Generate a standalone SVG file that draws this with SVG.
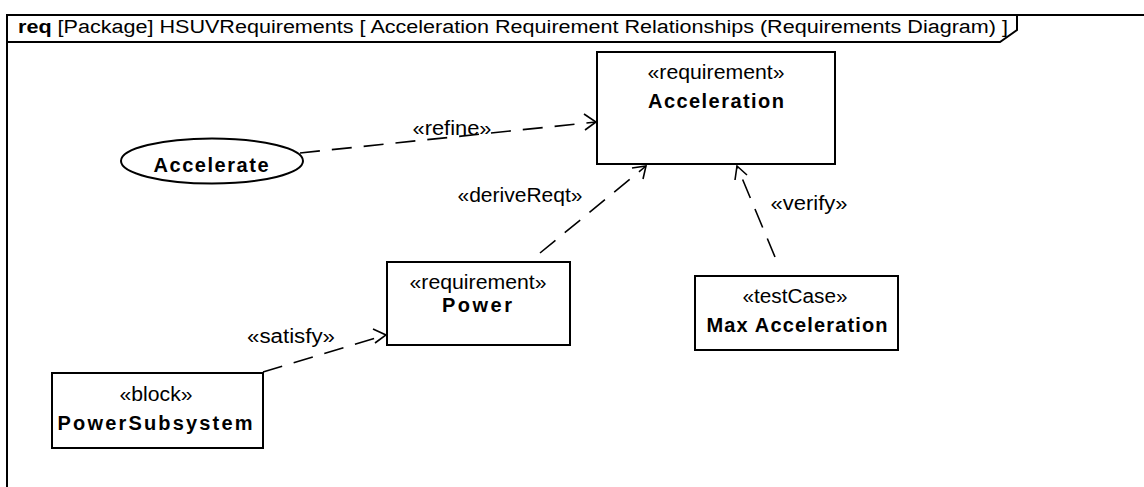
<svg xmlns="http://www.w3.org/2000/svg" width="1144" height="487" viewBox="0 0 1144 487">
<defs>
<style>
.frame{fill:none;stroke:#000;stroke-width:2}
.box{fill:#fff;stroke:#000;stroke-width:2}
.st{font-family:"Liberation Sans",Arial,sans-serif;font-size:20px;fill:#000;text-anchor:middle}
.nm{font-family:"Liberation Sans",Arial,sans-serif;font-size:20px;font-weight:bold;fill:#000;text-anchor:middle}
.lbl{font-family:"Liberation Sans",Arial,sans-serif;font-size:20px;fill:#000;text-anchor:middle}
.dep{fill:none;stroke:#000;stroke-width:1.6;stroke-dasharray:20,12}
.ah{fill:none;stroke:#000;stroke-width:1.6}
</style>
</defs>
<rect width="1144" height="487" fill="#fff"/>
<g id="frame">
<path class="frame" d="M7,487 V15 H1144"/>
<path class="frame" d="M7,42 H1000 L1017,30 V15" stroke-width="1.5"/>
<text x="18" y="33" font-family="Liberation Sans,Arial,sans-serif" font-size="18" textLength="990" lengthAdjust="spacingAndGlyphs"><tspan font-weight="bold">req</tspan> [Package] HSUVRequirements [ Acceleration Requirement Relationships (Requirements Diagram) ]</text>
</g>
<g id="connectors">
<g id="refine">
<line class="dep" x1="300" y1="153" x2="596" y2="122"/>
<path class="ah" d="M584,114 L596,122 L585,130"/>
<text class="lbl" x="452" y="135" textLength="79" lengthAdjust="spacingAndGlyphs">«refine»</text>
</g>
<g id="deriveReqt">
<line class="dep" x1="540" y1="253" x2="646" y2="166"/>
<path class="ah" d="M632,168 L646,166 L643,179"/>
<text class="lbl" x="520" y="202" textLength="125" lengthAdjust="spacingAndGlyphs">«deriveReqt»</text>
</g>
<g id="verify">
<line class="dep" x1="775" y1="257" x2="737" y2="166"/>
<path class="ah" d="M735,180 L737,166 L747,175"/>
<text class="lbl" x="809" y="210" textLength="77" lengthAdjust="spacingAndGlyphs">«verify»</text>
</g>
<g id="satisfy">
<line class="dep" x1="263" y1="372" x2="386" y2="335"/>
<path class="ah" d="M373,329 L386,335 L375,343"/>
<text class="lbl" x="291" y="343" textLength="88" lengthAdjust="spacingAndGlyphs">«satisfy»</text>
</g>
</g>
<g id="node-acceleration">
<rect class="box" x="597" y="52" width="238" height="112"/>
<text class="st" x="716" y="79" textLength="137" lengthAdjust="spacingAndGlyphs">«requirement»</text>
<text class="nm" x="716" y="108" textLength="136" lengthAdjust="spacing">Acceleration</text>
</g>
<g id="node-accelerate">
<ellipse class="box" cx="212" cy="161" rx="91" ry="22.5"/>
<text class="nm" x="211" y="172" textLength="115" lengthAdjust="spacing">Accelerate</text>
</g>
<g id="node-power">
<rect class="box" x="387" y="262" width="183" height="83"/>
<text class="st" x="478" y="289" textLength="137" lengthAdjust="spacingAndGlyphs">«requirement»</text>
<text class="nm" x="477" y="312" textLength="70" lengthAdjust="spacing">Power</text>
</g>
<g id="node-maxacceleration">
<rect class="box" x="695" y="276" width="203" height="74"/>
<text class="st" x="795" y="303" textLength="105" lengthAdjust="spacingAndGlyphs">«testCase»</text>
<text class="nm" x="797" y="332" textLength="181" lengthAdjust="spacing">Max Acceleration</text>
</g>
<g id="node-powersubsystem">
<rect class="box" x="52" y="373" width="211" height="75"/>
<text class="st" x="156" y="401" textLength="73" lengthAdjust="spacingAndGlyphs">«block»</text>
<text class="nm" x="155" y="430" textLength="195" lengthAdjust="spacing">PowerSubsystem</text>
</g>
</svg>
